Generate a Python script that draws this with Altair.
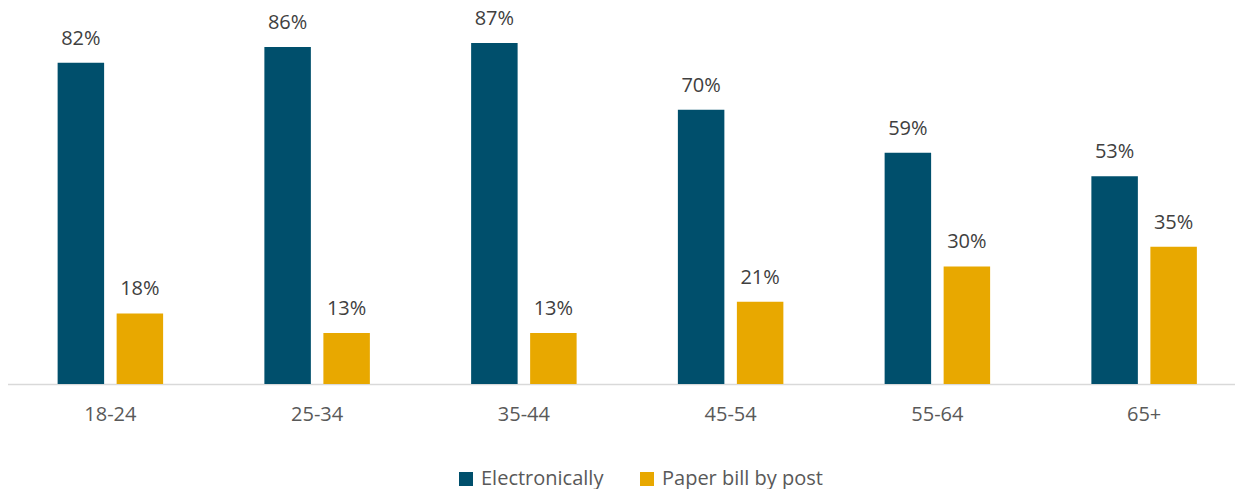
import altair as alt
import pandas as pd

categories = ["18-24", "25-34", "35-44", "45-54", "55-64", "65+"]
electronically = [82, 86, 87, 70, 59, 53]
paper = [18, 13, 13, 21, 30, 35]
series = ["Electronically", "Paper bill by post"]
colors = ["#004F6C", "#E8A800"]

rows = []
for c, e, p in zip(categories, electronically, paper):
    rows.append({"age": c, "method": series[0], "value": e, "label": f"{e}%"})
    rows.append({"age": c, "method": series[1], "value": p, "label": f"{p}%"})
df = pd.DataFrame(rows)

FONT = "Open Sans"
GREY = "#595959"

x = alt.X("age:N", sort=categories, title=None,
          scale=alt.Scale(range=[-1, 1239.5], paddingInner=0, paddingOuter=0),
          axis=alt.Axis(labelAngle=0, ticks=False, labelPadding=20, labelFontSize=20,
                        labelFont=FONT, labelColor=GREY, domainColor="#D9D9D9",
                        domainWidth=1.5, grid=False))
xo = alt.XOffset("method:N", sort=series,
                 scale=alt.Scale(paddingInner=0.212, paddingOuter=0.858))
y = alt.Y("value:Q", scale=alt.Scale(domain=[0, 93.4], nice=False), axis=None)

base = alt.Chart(df).encode(x=x, xOffset=xo, y=y)

bars = base.mark_bar().encode(
    color=alt.Color("method:N", sort=series,
                    scale=alt.Scale(domain=series, range=colors),
                    legend=alt.Legend(title=None, orient="none", legendX=448, legendY=451,
                                      direction="horizontal", symbolType="square",
                                      symbolSize=196, symbolStrokeWidth=0,
                                      labelFont=FONT, labelFontSize=20, labelColor=GREY,
                                      labelLimit=0, labelOffset=5, columnPadding=33))
)

labels = base.mark_text(baseline="alphabetic", dy=-18, font=FONT, fontSize=20,
                        color="#404040").encode(text="label:N")

chart = (bars + labels).properties(
    width=1227, height=366,
    autosize=alt.AutoSizeParams(type="none"),
    padding={"left": 0, "top": 10, "right": 0, "bottom": 110},
).configure_view(stroke=None)

chart.save("out.html", embed_options={"renderer": "svg", "actions": False})
